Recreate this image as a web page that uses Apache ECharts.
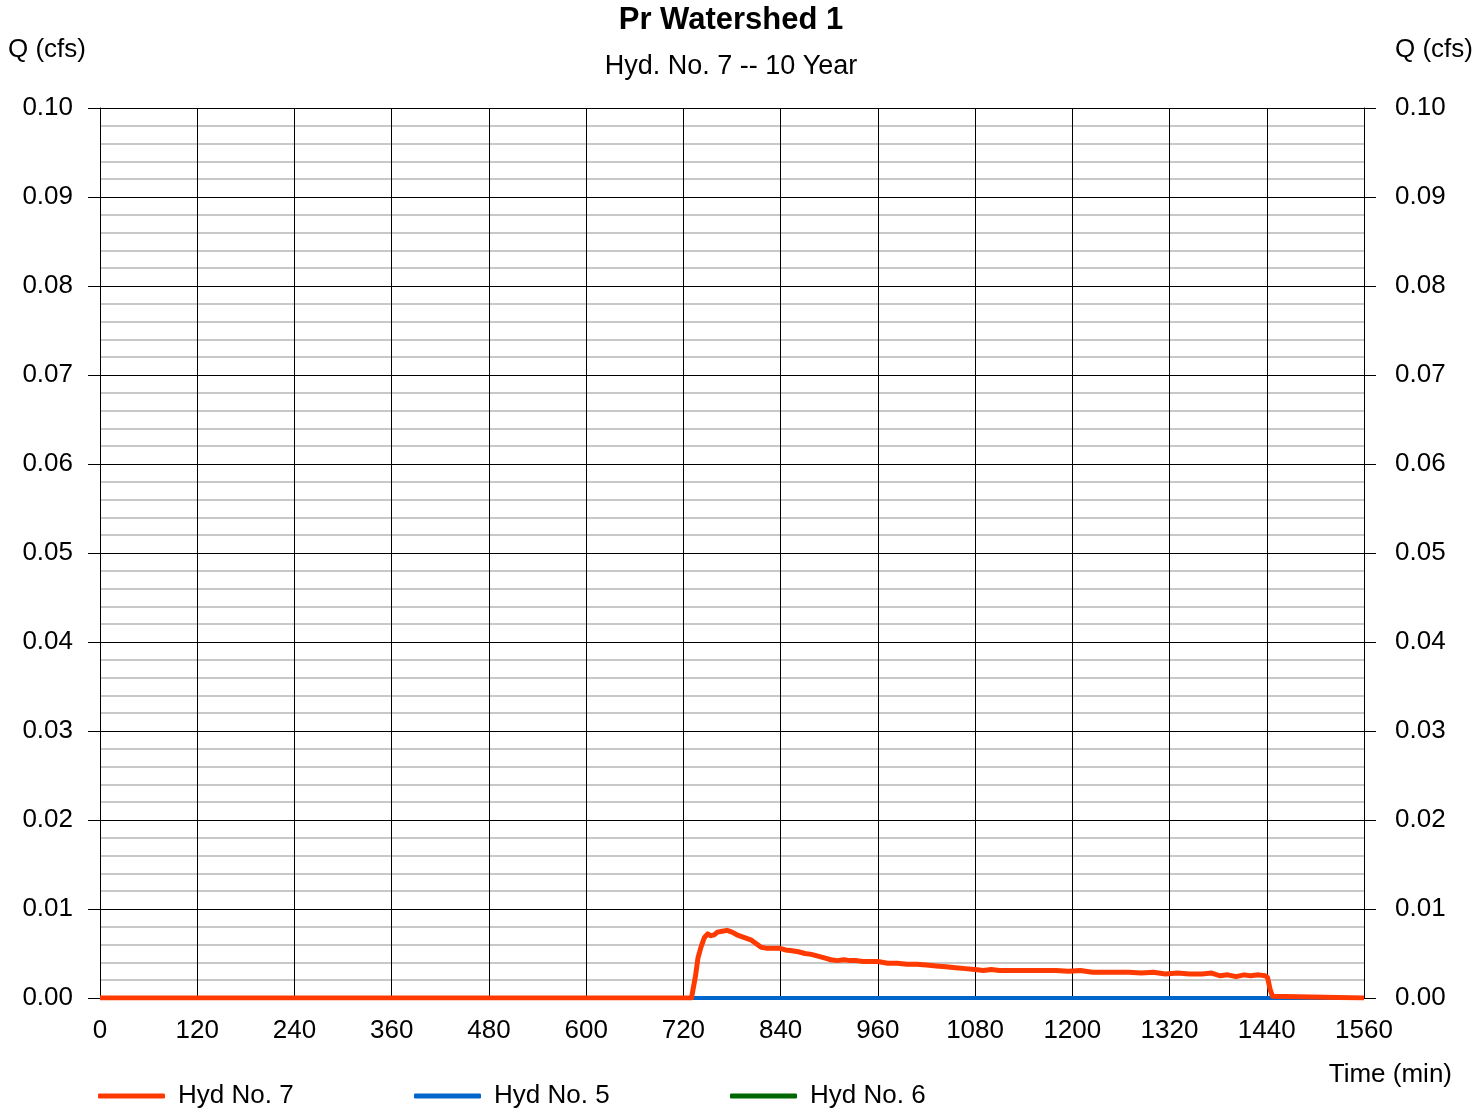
<!DOCTYPE html>
<html>
<head>
<meta charset="utf-8">
<title>Pr Watershed 1</title>
<script src="https://cdn.jsdelivr.net/npm/echarts@6/dist/echarts.min.js"></script>
<style>
  html, body { margin: 0; padding: 0; background: #fff; }
  #chart { width: 1473px; height: 1114px; }
</style>
</head>
<body>
<div id="chart"></div>
<script>
// Hydrograph ordinates: time (min) and discharge (cfs)
const hyd7Time = [0, 730, 732, 735, 738, 742, 746, 750, 754, 758, 762, 768, 774, 780, 786, 792, 798, 804, 810, 816,
  822, 830, 838, 846, 854, 862, 870, 878, 886, 894, 902, 910, 918, 926, 934, 942, 950, 960, 972, 984,
  996, 1008, 1020, 1032, 1044, 1056, 1068, 1080, 1090, 1100, 1110, 1120, 1140, 1160, 1180, 1195, 1210, 1225, 1240, 1255,
  1270, 1285, 1300, 1315, 1330, 1345, 1360, 1372, 1382, 1392, 1402, 1412, 1420, 1430, 1438, 1441, 1444, 1447, 1449, 1560];
const hyd7Flow = [0, 0, 0, 0.0025, 0.0045, 0.0058, 0.0068, 0.0072, 0.0070, 0.0071, 0.0074, 0.0075, 0.0076, 0.0074, 0.0071, 0.0069, 0.0067, 0.0065, 0.0061, 0.0057,
  0.0056, 0.0056, 0.0056, 0.0054, 0.0053, 0.0052, 0.0050, 0.0049, 0.0047, 0.0045, 0.0043, 0.0042, 0.0043, 0.0042, 0.0042, 0.0041, 0.0041, 0.0041, 0.0039, 0.0039,
  0.0038, 0.0038, 0.0037, 0.0036, 0.0035, 0.0034, 0.0033, 0.0032, 0.0031, 0.0032, 0.0031, 0.0031, 0.0031, 0.0031, 0.0031, 0.0030, 0.0031, 0.0029, 0.0029, 0.0029,
  0.0029, 0.0028, 0.0029, 0.0027, 0.0028, 0.0027, 0.0027, 0.0028, 0.0025, 0.0026, 0.0024, 0.0026, 0.0025, 0.0026, 0.0025, 0.0023, 0.0010, 0.0002, 0, 0];

const hyd5Time = [0, 1560];
const hyd5Flow = [0, 0];
const hyd6Time = [0, 1560];
const hyd6Flow = [0, 0];

const seriesNames = ['Hyd No. 7', 'Hyd No. 5', 'Hyd No. 6'];
const seriesColors = ['#FF3A00', '#0066CC', '#006600'];

const xTickStep = 120;
const yTickStep = 0.01;

const pairs = (t, q) => t.map((v, i) => [v, q[i]]);

const FONT = 'Liberation Sans, Arial, sans-serif';
const TXT = { fontFamily: FONT, fontSize: 26, color: '#000' };

const yAxisCommon = {
  type: 'value', min: 0, max: 0.1, interval: yTickStep,
  axisLine: { show: true, lineStyle: { color: '#000', width: 1 } },
  axisTick: { show: true, inside: false, length: 12, lineStyle: { color: '#000', width: 1 } },
  axisLabel: Object.assign({ margin: 27, formatter: v => v.toFixed(2) }, TXT),
  splitLine: { show: true, lineStyle: { color: '#000', width: 1 } },
  minorTick: { show: false, splitNumber: 5 },
  minorSplitLine: { show: true, lineStyle: { color: '#c8c8c8', width: 2 } }
};

const chart = echarts.init(document.getElementById('chart'), null, { renderer: 'canvas' });
chart.setOption({
  backgroundColor: '#fff',
  animation: false,
  legend: seriesNames.map((name, i) => ({
    data: [name], left: 98 + i * 316, top: 1083, padding: 0,
    icon: 'roundRect', itemWidth: 67, itemHeight: 5,
    textStyle: Object.assign({ padding: [0, 0, 0, 8] }, TXT)
  })),
  grid: { left: 100, right: 109, top: 108, bottom: 116, containLabel: false },
  xAxis: {
    type: 'value', min: 0, max: 1560, interval: xTickStep,
    axisLine: { show: true, onZero: false, lineStyle: { color: '#000', width: 1 } },
    axisTick: { show: false },
    axisLabel: Object.assign({ margin: 20, formatter: v => String(v) }, TXT),
    splitLine: { show: true, lineStyle: { color: '#000', width: 1 } }
  },
  yAxis: [
    Object.assign({ position: 'left' }, yAxisCommon),
    Object.assign({ position: 'right' }, yAxisCommon, {
      axisLabel: Object.assign({ margin: 31, formatter: v => v.toFixed(2) }, TXT),
      minorSplitLine: { show: false }, splitLine: { show: false } })
  ],
  graphic: [
    { type: 'text', x: 731, y: 5, style: { text: 'Pr Watershed 1', font: 'bold 31px ' + FONT, fill: '#000', align: 'center', verticalAlign: 'top' } },
    { type: 'text', x: 731, y: 53, style: { text: 'Hyd. No. 7 -- 10 Year', font: '27px ' + FONT, fill: '#000', align: 'center', verticalAlign: 'top' } },
    { type: 'text', left: 8, top: 37, style: { text: 'Q (cfs)', font: '26px ' + FONT, fill: '#000' } },
    { type: 'text', right: 0, top: 37, style: { text: 'Q (cfs)', font: '26px ' + FONT, fill: '#000' } },
    { type: 'text', right: 21, top: 1062, style: { text: 'Time (min)', font: '26px ' + FONT, fill: '#000' } }
  ],
  series: [
    { name: seriesNames[2], type: 'line', data: pairs(hyd6Time, hyd6Flow), showSymbol: false, symbol: 'none',
      lineStyle: { color: seriesColors[2], width: 4 }, itemStyle: { color: seriesColors[2] }, z: 3 },
    { name: seriesNames[1], type: 'line', data: pairs(hyd5Time, hyd5Flow), showSymbol: false, symbol: 'none',
      lineStyle: { color: seriesColors[1], width: 4 }, itemStyle: { color: seriesColors[1] }, z: 4 },
    { name: seriesNames[0], type: 'line', data: pairs(hyd7Time, hyd7Flow),
      showSymbol: false, symbol: 'none', sampling: null, zlevel: 1,
      lineStyle: { color: seriesColors[0], width: 5, join: 'round' }, itemStyle: { color: seriesColors[0] }, z: 5 }
  ]
});
</script>
</body>
</html>
